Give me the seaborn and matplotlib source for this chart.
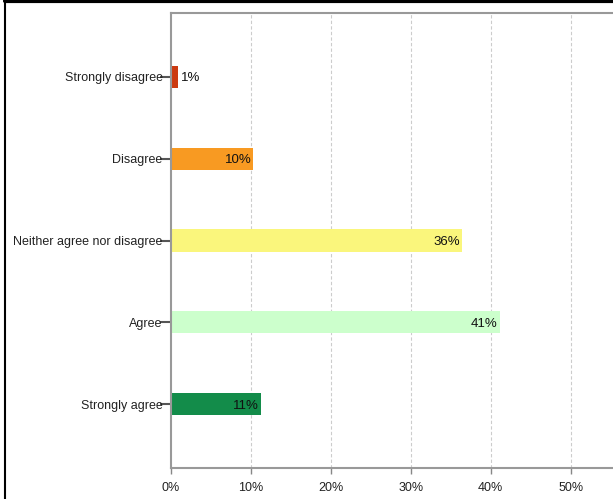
import matplotlib
matplotlib.use("Agg")
import matplotlib.pyplot as plt
import seaborn as sns
import pandas as pd
from matplotlib.lines import Line2D

categories = ["Strongly disagree", "Disagree", "Neither agree nor disagree", "Agree", "Strongly agree"]
values = [0.9, 10.3, 36.4, 41.1, 11.3]
labels = ["1%", "10%", "36%", "41%", "11%"]
colors = ["#CC3A10", "#F89A22", "#FAF67C", "#CCFFCC", "#138C4A"]
xticks = [0, 10, 20, 30, 40, 50]
xticklabels = ["0%", "10%", "20%", "30%", "40%", "50%"]

sns.set_theme(style="white")
plt.rcParams['font.family'] = ['Liberation Sans', 'DejaVu Sans']

FS = 9
W, H = 613, 499
fig = plt.figure(figsize=(W / 100, H / 100), dpi=100)
ax = fig.add_axes([171 / W, (H - 468) / H, (W - 171) / W, (468 - 13) / H])

df = pd.DataFrame({"cat": categories, "val": values})
sns.barplot(data=df, x="val", y="cat", hue="cat", palette=colors, order=categories,
            hue_order=categories, width=0.27, legend=False, ax=ax, saturation=1,
            edgecolor="none")

ax.set_xlim(0, 55.3)
ax.set_ylim(4.78, -0.78)
ax.set_xticks(xticks)
ax.set_xticklabels(xticklabels, fontsize=FS, color="#222222")
ax.set_xlabel("")
ax.set_ylabel("")
ax.tick_params(axis="y", labelsize=FS, labelcolor="#222222", length=8, width=1.5,
               color="#555555", left=True, pad=-2)
ax.tick_params(axis="x", length=4, width=1, color="#888888", bottom=True, pad=6)

for v in xticks[1:]:
    ax.axvline(v, color="#cccccc", linestyle=(0, (3, 2)), linewidth=0.8, zorder=0)

for s in ["left", "top", "bottom"]:
    ax.spines[s].set_visible(True)
    ax.spines[s].set_color("#999999")
    ax.spines[s].set_linewidth(1.5)
ax.spines["right"].set_visible(False)

for i, (v, lab) in enumerate(zip(values, labels)):
    if v < 3:
        ax.text(v + 0.3, i + 0.02, lab, ha="left", va="center", fontsize=9.5, color="#111111")
    else:
        ax.text(v - 0.25, i + 0.02, lab, ha="right", va="center", fontsize=9.5, color="#111111")

# black screenshot border (top and left)
fig.add_artist(Line2D([5 / W, 1], [1 - 1.2 / H, 1 - 1.2 / H], transform=fig.transFigure,
                      color="black", linewidth=3))
fig.add_artist(Line2D([5.5 / W, 5.5 / W], [0, 1], transform=fig.transFigure,
                      color="black", linewidth=1.5))

fig.savefig("out.png", dpi=100)
